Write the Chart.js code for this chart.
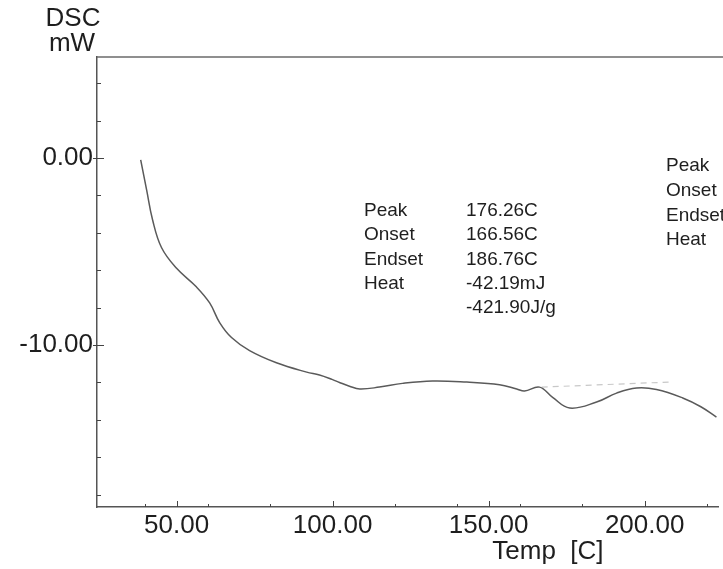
<!DOCTYPE html>
<html>
<head>
<meta charset="utf-8">
<script src="https://cdn.jsdelivr.net/npm/chart.js"></script>
<style>
  html, body { margin: 0; padding: 0; background: #fff; }
  #wrap { width: 723px; height: 569px; position: relative; }
</style>
</head>
<body>
<div id="wrap"><canvas id="dsc"></canvas></div>
<script>
// Curva DSC (temperatura em C, sinal em mW)
const temps = [38.5, 40.4, 42.3, 45.2, 50.0, 56.4, 60.6, 63.8, 67.6, 73.4, 82.0, 91.7, 95.8, 100.0, 102.2, 105.4, 108.7, 115.0, 122.4, 132.0, 143.0, 153.5, 159.0, 161.5, 166.3, 170.5, 176.0, 184.6, 191.0, 197.4, 203.8, 212.2, 218.0, 223.0];
const dscValues = [-0.1, -1.7, -3.3, -4.8, -5.9, -6.9, -7.75, -8.8, -9.6, -10.3, -10.95, -11.45, -11.6, -11.85, -12.0, -12.2, -12.35, -12.25, -12.05, -11.92, -11.98, -12.12, -12.35, -12.46, -12.25, -12.8, -13.37, -13.05, -12.57, -12.3, -12.38, -12.83, -13.3, -13.85];

// Linha de base do pico (tracejada)
const baseTemps = [167, 208];
const baseValues = [-12.25, -11.98];

// Marcas dos eixos
const xLabelTicks = [50, 100, 150, 200];
const xMinorTicks = [40, 60, 80, 120, 140, 160, 180, 220];
const yLabelTicks = [0, -10];
const yMinorTicks = [4, 2, -2, -4, -6, -8, -12, -14, -16, -18];

// Textos do resultado da análise
const resultLabels = ['Peak', 'Onset', 'Endset', 'Heat', ''];
const resultValues = ['176.26C', '166.56C', '186.76C', '-42.19mJ', '-421.90J/g'];
const sideLabels = ['Peak', 'Onset', 'Endset', 'Heat'];

const FONT = '"Liberation Sans", Arial, sans-serif';
const INK = '#1e1e1e';

const axisDecor = {
    id: 'axisDecor',
    afterDraw(chart) {
        const ctx = chart.ctx;
        const area = chart.chartArea;
        const xs = chart.scales.x;
        const ys = chart.scales.y;
        ctx.save();

        // borda superior
        ctx.strokeStyle = '#6a6a6a';
        ctx.lineWidth = 1.5;
        ctx.beginPath();
        ctx.moveTo(area.left, area.top);
        ctx.lineTo(chart.width, area.top);
        ctx.stroke();

        // marcas internas
        ctx.strokeStyle = '#444';
        ctx.lineWidth = 1;
        ctx.beginPath();
        yMinorTicks.forEach(v => {
            const py = Math.round(ys.getPixelForValue(v)) + 0.5;
            ctx.moveTo(area.left, py);
            ctx.lineTo(area.left + 4, py);
        });
        yLabelTicks.forEach(v => {
            const py = Math.round(ys.getPixelForValue(v)) + 0.5;
            ctx.moveTo(area.left - 4, py);
            ctx.lineTo(area.left + 7, py);
        });
        xMinorTicks.forEach(v => {
            const px = Math.round(xs.getPixelForValue(v)) + 0.5;
            ctx.moveTo(px, area.bottom);
            ctx.lineTo(px, area.bottom - 3);
        });
        xLabelTicks.forEach(v => {
            const px = Math.round(xs.getPixelForValue(v)) + 0.5;
            ctx.moveTo(px, area.bottom);
            ctx.lineTo(px, area.bottom - 6);
        });
        ctx.stroke();

        // títulos dos eixos
        ctx.fillStyle = INK;
        ctx.textAlign = 'center';
        ctx.textBaseline = 'middle';
        ctx.font = '26px ' + FONT;
        ctx.fillText('DSC', 73, 19);
        ctx.fillText('mW', 72, 44);
        ctx.fillText('Temp  [C]', xs.getPixelForValue(169), 552);

        // resultados do pico
        ctx.textAlign = 'left';
        ctx.font = '19px ' + FONT;
        resultLabels.forEach((t, i) => {
            const py = 211 + i * 24.2;
            if (t) ctx.fillText(t, 364, py);
            ctx.fillText(resultValues[i], 466, py);
        });
        sideLabels.forEach((t, i) => {
            ctx.fillText(t, 666, 166 + i * 24.7);
        });

        ctx.restore();
    }
};

new Chart(document.getElementById('dsc'), {
    type: 'line',
    data: {
        datasets: [
            {
                data: temps.map((t, i) => ({ x: t, y: dscValues[i] })),
                borderColor: '#5a5a5a',
                borderWidth: 1.5,
                pointRadius: 0,
                fill: false,
                tension: 0.4
            },
            {
                data: baseTemps.map((t, i) => ({ x: t, y: baseValues[i] })),
                borderColor: '#c8c8c8',
                borderWidth: 1.2,
                borderDash: [6, 5],
                pointRadius: 0,
                fill: false
            }
        ]
    },
    options: {
        responsive: true,
        maintainAspectRatio: false,
        animation: false,
        layout: { padding: { top: 57, right: 5, left: 0, bottom: 0 } },
        plugins: {
            legend: { display: false },
            tooltip: { enabled: false }
        },
        scales: {
            x: {
                type: 'linear',
                min: 24.5,
                max: 223.5,
                afterFit: s => { s.height = 62; },
                afterBuildTicks: s => { s.ticks = xLabelTicks.map(v => ({ value: v })); },
                grid: { display: false, drawTicks: false },
                border: { display: true, color: '#555', width: 1.5 },
                ticks: {
                    color: INK,
                    padding: 3,
                    maxRotation: 0,
                    autoSkip: false,
                    font: { family: FONT, size: 26 },
                    callback: v => v.toFixed(2)
                }
            },
            y: {
                type: 'linear',
                min: -18.66,
                max: 5.4,
                afterFit: s => { s.width = 97; },
                afterBuildTicks: s => { s.ticks = yLabelTicks.map(v => ({ value: v })); },
                grid: { display: false, drawTicks: false },
                border: { display: true, color: '#555', width: 1.5 },
                ticks: {
                    color: INK,
                    padding: 4,
                    autoSkip: false,
                    font: { family: FONT, size: 26 },
                    callback: v => v.toFixed(2)
                }
            }
        }
    },
    plugins: [axisDecor]
});
</script>
</body>
</html>
